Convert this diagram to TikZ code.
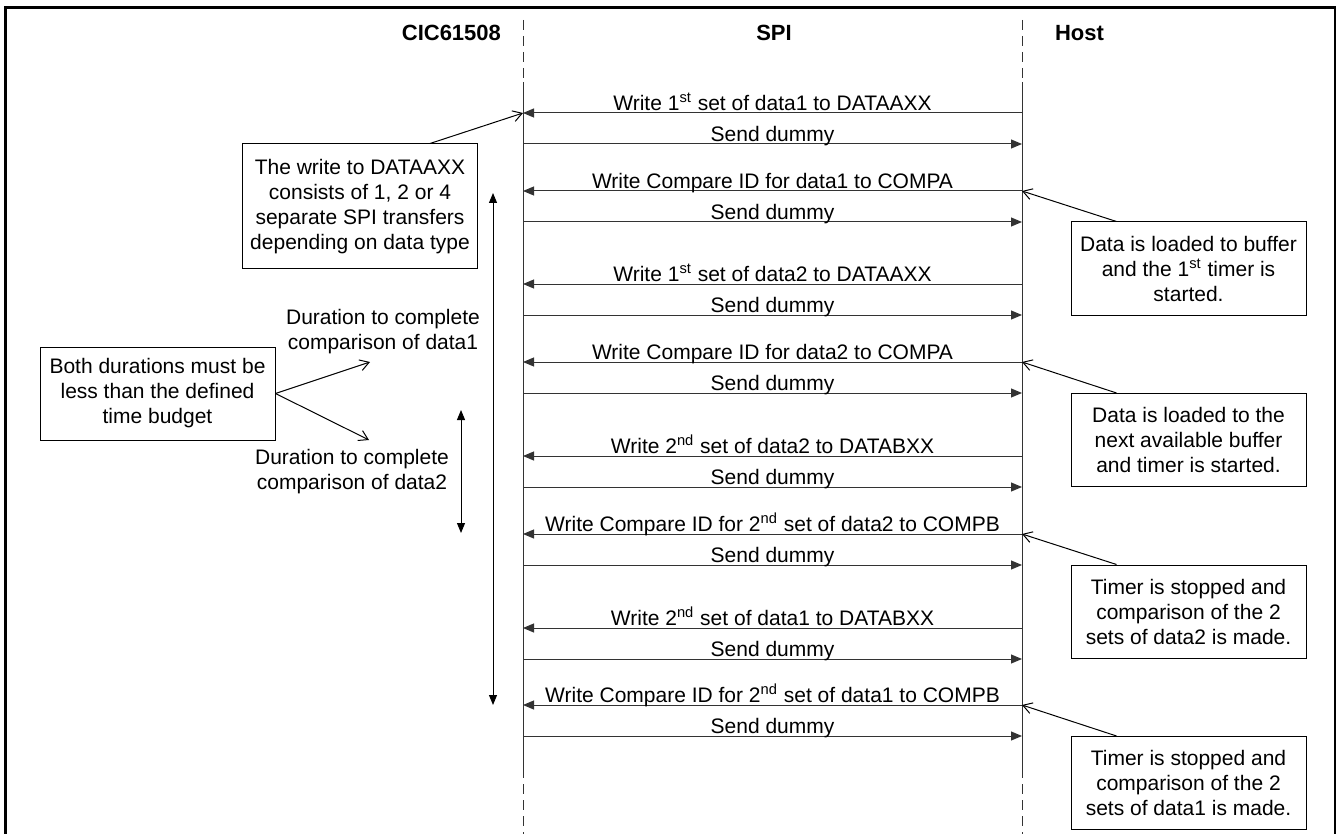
\documentclass[tikz,border=0pt]{standalone}
\usepackage{fontspec}
\setmainfont{Liberation Sans}
\usetikzlibrary{arrows.meta}

\begin{document}
\begin{tikzpicture}[x=0.5pt,y=-0.5pt,
	font=\fontsize{10.5}{12.5}\selectfont,
	life/.style={line width=0.5pt,black!80},
	msg/.style={line width=0.5pt,black!80,-{Triangle[length=5.5pt,width=4.5pt]}},
	span/.style={line width=0.5pt,{Triangle[length=5pt,width=4pt]}-{Triangle[length=5pt,width=4pt]}},
	ptr/.style={line width=0.5pt,-{Straight Barb[length=4.5pt,width=5.5pt]}},
	lbl/.style={anchor=base,yshift=1.2pt,inner sep=0pt,text=black},
	note/.style={draw,line width=0.5pt,align=center,inner sep=0pt,minimum width=117.5pt,minimum height=46.5pt}]
	\useasboundingbox (0,0) rectangle (1343,834);
	\draw[line width=1.3pt] (5.5,850) -- (5.5,7.5) -- (1335,7.5) -- (1335,850);
	% lifelines
	\foreach \n/\x in {cic/523,host/1022}{
		\coordinate (\n top) at (\x,20);
		\coordinate (\n a) at (\x,82);
		\coordinate (\n b) at (\x,768);
		\coordinate (\n bot) at (\x,834);
		\draw[life,dashed,dash pattern=on 5pt off 3pt] (\n top) -- (\n a);
		\draw[life] (\n a) -- (\n b);
		\draw[life,dashed,dash pattern=on 5pt off 3pt] (\n b) -- (\n bot);}
	\node[font=\fontsize{11}{13}\selectfont\bfseries,anchor=base east] (tcic) at (508,41){CIC61508};
	\node[font=\fontsize{11}{13}\selectfont\bfseries,anchor=base] (tspi) at (774,41){SPI};
	\node[font=\fontsize{11}{13}\selectfont\bfseries,anchor=base west] (thost) at (1048,41){Host};
	% messages
	\foreach \y/\txt [count=\i] in {113/{Write 1\textsuperscript{st} set of data1 to DATAAXX},
		191/{Write Compare ID for data1 to COMPA},
		284/{Write 1\textsuperscript{st} set of data2 to DATAAXX},
		362/{Write Compare ID for data2 to COMPA},
		456/{Write 2\textsuperscript{nd} set of data2 to DATABXX},
		534/{Write Compare ID for 2\textsuperscript{nd} set of data2 to COMPB},
		628/{Write 2\textsuperscript{nd} set of data1 to DATABXX},
		705/{Write Compare ID for 2\textsuperscript{nd} set of data1 to COMPB}}{
		\coordinate (h\i) at (1022,\y);
		\coordinate (c\i) at (523,\y);
		\coordinate (hd\i) at (1022,\y+31);
		\coordinate (cd\i) at (523,\y+31);
		\draw[msg] (h\i) -- node[lbl] (m\i){\txt} (c\i);
		\draw[msg] (cd\i) -- node[lbl] (md\i){Send dummy} (hd\i);}
	% notes on the left
	\node[note,minimum height=62.5pt] (xfer) at (360,206.5){The write to DATAAXX\\consists of 1, 2 or 4\\separate SPI transfers\\depending on data type};
	\draw[ptr] ([xshift=94pt]xfer.north west) -- (c1);
	\node[note] (budget) at (157.5,393.5){Both durations must be\\less than the defined\\time budget};
	\node[align=center,inner sep=0pt] (dur1) at (383,332){Duration to complete\\comparison of data1};
	\node[align=center,inner sep=0pt] (dur2) at (352,472){Duration to complete\\comparison of data2};
	\coordinate (d1tip) at (370,362);
	\coordinate (d2tip) at (369,440);
	\draw[ptr] (budget.east) -- (d1tip);
	\draw[ptr] (budget.east) -- (d2tip);
	\coordinate (s1top) at (493,193);
	\coordinate (s1bot) at (493,705);
	\coordinate (s2top) at (461,410);
	\coordinate (s2bot) at (461,533);
	\draw[span] (s1top) -- (s1bot);
	\draw[span] (s2top) -- (s2bot);
	% notes on the right
	\node[note] (load1) at (1188.5,268.5){Data is loaded to buffer\\and the 1\textsuperscript{st} timer is\\started.};
	\node[note] (load2) at (1188.5,440){Data is loaded to the\\next available buffer\\and timer is started.};
	\node[note] (stop2) at (1188.5,611.5){Timer is stopped and\\comparison of the 2\\sets of data2 is made.};
	\node[note] (stop1) at (1188.5,783){Timer is stopped and\\comparison of the 2\\sets of data1 is made.};
	\foreach \b/\m in {load1/2,load2/4,stop2/6,stop1/8}{
		\draw[ptr] ([xshift=23pt]\b.north west) -- (h\m);}
\end{tikzpicture}
\end{document}
